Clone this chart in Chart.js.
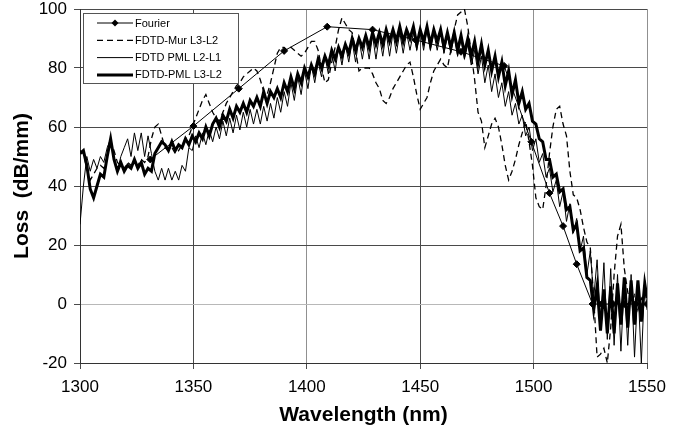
<!DOCTYPE html>
<html>
<head>
<meta charset="utf-8">
<script src="https://cdn.jsdelivr.net/npm/chart.js@4.4.1/dist/chart.umd.min.js"></script>
<style>
  html, body { margin: 0; padding: 0; background: #fff; }
  #wrap { width: 695px; height: 432px; }
</style>
</head>
<body>
<div id="wrap"><canvas id="lossChart" width="695" height="432"></canvas></div>
<script>
// Wavelength grid shared by the three FDTD curves (nm)
const wavelength = [
  1300,1301.5,1303,1304.5,1306,1307.5,1309,1310.5,1312,1313.5,
  1315,1316.5,1318,1319.5,1321,1322.5,1324,1325.5,1327,1328.5,
  1330,1331.5,1333,1334.5,1336,1337.5,1339,1340.5,1342,1343.5,
  1345,1346.5,1348,1349.5,1351,1352.5,1354,1355.5,1357,1358.5,
  1360,1361.5,1363,1364.5,1366,1367.5,1369,1370.5,1372,1373.5,
  1375,1376.5,1378,1379.5,1381,1382.5,1384,1385.5,1387,1388.5,
  1390,1391.5,1393,1394.5,1396,1397.5,1399,1400.5,1402,1403.5,
  1405,1406.5,1408,1409.5,1411,1412.5,1414,1415.5,1417,1418.5,
  1420,1421.5,1423,1424.5,1426,1427.5,1429,1430.5,1432,1433.5,
  1435,1436.5,1438,1439.5,1441,1442.5,1444,1445.5,1447,1448.5,
  1450,1451.5,1453,1454.5,1456,1457.5,1459,1460.5,1462,1463.5,
  1465,1466.5,1468,1469.5,1471,1472.5,1474,1475.5,1477,1478.5,
  1480,1481.5,1483,1484.5,1486,1487.5,1489,1490.5,1492,1493.5,
  1495,1496.5,1498,1499.5,1501,1502.5,1504,1505.5,1507,1508.5,
  1510,1511.5,1513,1514.5,1516,1517.5,1519,1520.5,1522,1523.5,
  1525,1526.5,1528,1529.5,1531,1532.5,1534,1535.5,1537,1538.5,
  1540,1541.5,1543,1544.5,1546,1547.5,1549,1550
];

// FDTD-Mur L3-L2 (dashed)
const murL3L2 = [
  52,51,46,42,44,46,47,46,50,55,
  52,48,47,46,48,47,48,47,49,48,
  50,56,60,61,57,53,52,53,51,52,
  54,56,57,60,63,66,69,71,68,65,
  63,62,65,68,70,72,74,75,77,78,
  79,80,79,76,72,71,75,80,85,87,
  87,86,87,86,85,84,85,87,89,89,
  86,80,75,76,82,87,93,97,95,93,
  92,86,79,80,80,80,78,75,73,69,
  68,70,73,75,77,79,81,82,77,71,
  66,68,70,75,79,81,83,81,80,86,
  93,98,99,100,94,85,76,65,62,53,
  57,61,63,60,54,47,42,45,49,54,
  58,62,55,47,36,33,32,40,51,60,
  66,67,61,57,45,37,36,32,26,21,
  19,2,-18,-17,-15,-20,-8,10,23,27,
  12,4,0,3,-2,2,0,0
];

// FDTD PML L2-L1 (thin)
const pmlL2L1 = [
  27,40,50,45,49,46,50,48,53,56,
  50,45,50,53,56,50,58,52,58,50,
  57,51,45,42,46,42,46,42,45,42,
  47,45,53,52,57,53,58,54,59,55,
  60,56,62,57,63,58,64,59,65,60,
  66,61,66,61,67,62,68,63,70,65,
  72,67,75,69,77,71,79,73,81,75,
  82,77,84,78,85,79,87,81,88,82,
  89,82,90,83,90,83,91,83,91,84,
  92,84,92,85,92,85,92,86,92,86,
  93,86,93,86,92,86,92,85,91,85,
  91,84,90,83,88,81,86,78,84,75,
  81,72,78,70,75,67,72,64,68,61,
  64,57,60,52,56,48,51,43,46,38,
  42,33,38,28,34,24,29,18,23,10,
  18,2,15,-6,14,-12,12,-14,10,-16,
  8,-14,10,-18,6,-20,8,-2
];

// FDTD-PML L3-L2 (thick)
const pmlL3L2 = [
  51,52,47,39,36,40,44,43,50,56,
  49,45,48,45,47,46,49,46,48,44,
  46,45,51,53,55,54,52,55,52,54,
  53,56,54,57,55,58,56,60,57,61,
  63,60,64,62,66,63,67,65,68,65,
  69,67,70,67,72,68,72,70,73,70,
  75,72,77,73,78,75,80,77,81,78,
  83,80,84,81,86,83,87,84,88,85,
  90,86,90,87,91,87,92,88,92,88,
  93,89,93,89,94,89,93,90,94,88,
  93,89,94,88,93,89,93,87,92,87,
  92,86,91,85,90,84,89,82,88,81,
  86,79,84,77,82,74,79,71,76,68,
  72,66,68,62,61,56,55,49,49,43,
  44,38,39,32,33,25,27,18,19,9,
  8,-2,6,-9,5,-10,6,-10,7,-7,
  9,-8,8,-7,8,-6,7,2
];

// Fourier result (diamonds)
const fourierWl = [1331,1350,1370,1390,1409,1429,1448,1468,1487,1499,1507,1513,1519,1526,1530,1535,1540,1545,1550];
const fourierLoss = [49,60.3,73,85.8,94,93,89.5,85.5,80.7,55,37.6,26.4,13.5,0,0,0,0,0,0];

const xTicks = [1300, 1350, 1400, 1450, 1500, 1550];
const yTicks = [-20, 0, 20, 40, 60, 80, 100];

const FONT = '"Liberation Sans", Arial, sans-serif';

function toPoints(xs, ys) {
    return xs.map((x, i) => ({ x: x, y: ys[i] }));
}

// Legend box drawn inside the plot, top left
const boxLegend = {
    id: 'boxLegend',
    afterDraw(chart) {
        const ctx = chart.ctx;
        const area = chart.chartArea;
        const bx = area.left + 3, by = area.top + 4, bw = 155, bh = 70;
        ctx.save();
        ctx.fillStyle = '#fff';
        ctx.fillRect(bx, by, bw, bh);
        ctx.strokeStyle = '#555';
        ctx.lineWidth = 1;
        ctx.strokeRect(bx + 0.5, by + 0.5, bw, bh);
        ctx.font = '11px ' + FONT;
        ctx.textBaseline = 'middle';
        ctx.fillStyle = '#000';
        chart.data.datasets.forEach((ds, i) => {
            const y = by + 10 + i * 17.3;
            ctx.beginPath();
            ctx.setLineDash(ds.borderDash || []);
            ctx.lineWidth = ds.borderWidth;
            ctx.strokeStyle = '#000';
            ctx.moveTo(bx + 14, y);
            ctx.lineTo(bx + 50, y);
            ctx.stroke();
            ctx.setLineDash([]);
            if (ds.pointRadius > 0) {
                const r = 3.5;
                ctx.beginPath();
                ctx.moveTo(bx + 32, y - r);
                ctx.lineTo(bx + 32 + r, y);
                ctx.lineTo(bx + 32, y + r);
                ctx.lineTo(bx + 32 - r, y);
                ctx.closePath();
                ctx.fill();
            }
            ctx.fillText(ds.label, bx + 52, y + 0.5);
        });
        ctx.restore();
    }
};

const ctx = document.getElementById('lossChart').getContext('2d');
new Chart(ctx, {
    type: 'line',
    data: {
        datasets: [
            {
                label: 'Fourier',
                data: toPoints(fourierWl, fourierLoss),
                borderColor: '#000',
                backgroundColor: '#000',
                borderWidth: 1,
                pointStyle: 'rectRot',
                pointRadius: 3.5,
                order: 4
            },
            {
                label: 'FDTD-Mur L3-L2',
                data: toPoints(wavelength, murL3L2),
                borderColor: '#000',
                borderWidth: 1.3,
                borderDash: [6, 4],
                pointRadius: 0,
                order: 3
            },
            {
                label: 'FDTD PML L2-L1',
                data: toPoints(wavelength, pmlL2L1),
                borderColor: '#000',
                borderWidth: 1,
                pointRadius: 0,
                order: 2
            },
            {
                label: 'FDTD-PML L3-L2',
                data: toPoints(wavelength, pmlL3L2),
                borderColor: '#000',
                borderWidth: 3,
                pointRadius: 0,
                order: 1
            }
        ]
    },
    options: {
        responsive: false,
        animation: false,
        devicePixelRatio: 1,
        layout: { padding: { left: 0, right: 48, top: 9, bottom: 0 } },
        elements: { line: { tension: 0, fill: false } },
        plugins: {
            legend: { display: false },
            tooltip: { enabled: false }
        },
        scales: {
            x: {
                type: 'linear',
                min: 1300,
                max: 1550,
                afterBuildTicks: (scale) => { scale.ticks = xTicks.map(v => ({ value: v })); },
                afterFit: (scale) => { scale.height = 69; scale.paddingLeft = 0; scale.paddingRight = 0; },
                ticks: {
                    color: '#000',
                    font: { family: FONT, size: 17 },
                    padding: 8,
                    maxRotation: 0,
                    callback: (v) => String(v)
                },
                grid: {
                    color: (c) => (c.tick && (c.tick.value === 1400 || c.tick.value === 1500 || c.tick.value === 1550)) ? '#909090' : '#4a4a4a',
                    tickColor: '#4a4a4a',
                    tickLength: 6
                },
                border: { display: true, color: '#333', width: 1 },
                title: {
                    display: true,
                    text: 'Wavelength (nm)',
                    color: '#000',
                    font: { family: FONT, size: 21, weight: 'bold' },
                    padding: { top: 0, bottom: 4 }
                }
            },
            y: {
                min: -20,
                max: 100,
                afterBuildTicks: (scale) => { scale.ticks = yTicks.map(v => ({ value: v })); },
                afterFit: (scale) => { scale.width = 80; scale.paddingTop = 0; scale.paddingBottom = 0; },
                ticks: {
                    color: '#000',
                    font: { family: FONT, size: 17 },
                    padding: 7,
                    callback: (v) => String(v)
                },
                grid: {
                    color: (c) => (c.tick && c.tick.value === 0) ? '#b8b8b8' : '#4a4a4a',
                    tickColor: '#4a4a4a',
                    tickLength: 6
                },
                border: { display: true, color: '#333', width: 1 },
                title: {
                    display: true,
                    text: 'Loss  (dB/mm)',
                    color: '#000',
                    font: { family: FONT, size: 21, weight: 'bold' },
                    padding: { top: 10, bottom: 0 }
                }
            }
        }
    },
    plugins: [boxLegend]
});
</script>
</body>
</html>
